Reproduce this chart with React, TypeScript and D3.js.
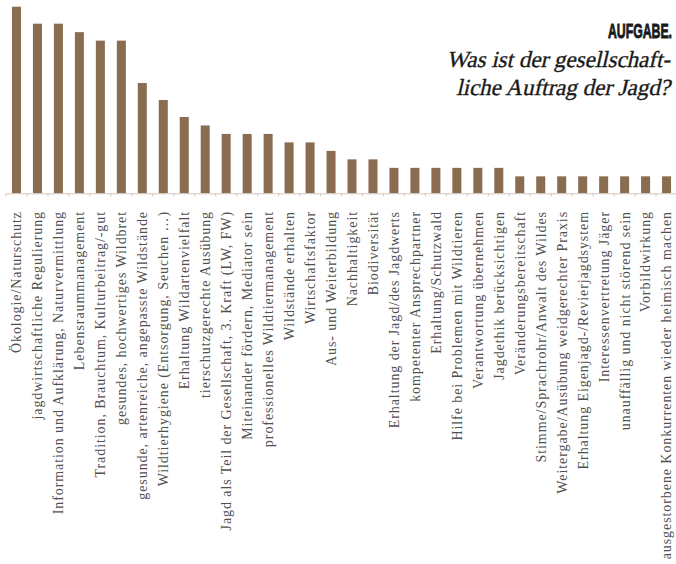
import React from "react";
import * as d3 from "d3";

const categories = [
  "Ökologie/Naturschutz",
  "jagdwirtschaftliche Regulierung",
  "Information und Aufklärung, Naturvermittlung",
  "Lebensraummanagement",
  "Tradition, Brauchtum, Kulturbeitrag/-gut",
  "gesundes, hochwertiges Wildbret",
  "gesunde, artenreiche, angepasste Wildstände",
  "Wildtierhygiene (Entsorgung, Seuchen …)",
  "Erhaltung Wildartenvielfalt",
  "tierschutzgerechte Ausübung",
  "Jagd als Teil der Gesellschaft, 3. Kraft (LW, FW)",
  "Miteinander fördern, Mediator sein",
  "professionelles Wildtiermanagement",
  "Wildstände erhalten",
  "Wirtschaftsfaktor",
  "Aus- und Weiterbildung",
  "Nachhaltigkeit",
  "Biodiversität",
  "Erhaltung der Jagd/des Jagdwerts",
  "kompetenter Ansprechpartner",
  "Erhaltung/Schutzwald",
  "Hilfe bei Problemen mit Wildtieren",
  "Verantwortung übernehmen",
  "Jagdethik berücksichtigen",
  "Veränderungsbereitschaft",
  "Stimme/Sprachrohr/Anwalt des Wildes",
  "Weitergabe/Ausübung weidgerechter Praxis",
  "Erhaltung Eigenjagd-/Revierjagdsystem",
  "Interessenvertretung Jäger",
  "unauffällig und nicht störend sein",
  "Vorbildwirkung",
  "ausgestorbene Konkurrenten wieder heimisch machen",
];

const values = [22, 20, 20, 19, 18, 18, 13, 11, 9, 8, 7, 7, 7, 6, 6, 5, 4, 4, 3, 3, 3, 3, 3, 3, 2, 2, 2, 2, 2, 2, 2, 2];

const titleTag = "AUFGABE.";
const titleLines = ["Was ist der gesellschaft-", "liche Auftrag der Jagd?"];

const W = 676;
const H = 564;
const baseY = 193.3;
const topY = 6.7;

export default function App() {
  const x = d3
    .scaleBand<string>()
    .domain(categories)
    .range([6, 6 + 32 * 20.97])
    .paddingInner(0.57)
    .paddingOuter(0.285);
  const y = d3.scaleLinear().domain([0, 22]).range([baseY, topY]);
  const step = x.step();
  const start = 6;

  return (
    <svg
      width={W}
      height={H}
      style={{ position: "absolute", left: 0, top: 0, display: "block", background: "#fff" }}
    >
      <g>
        {categories.map((c, i) => (
          <rect
            key={c}
            x={x(c)}
            y={y(values[i])}
            width={x.bandwidth()}
            height={baseY - y(values[i])}
            fill="#8a6d51"
          />
        ))}
      </g>
      <line x1={start} x2={W} y1={baseY + 0.5} y2={baseY + 0.5} stroke="#cfc6bc" strokeWidth={1} />
      {d3.range(categories.length + 1).map((i) => (
        <line
          key={"t" + i}
          x1={start + i * step}
          x2={start + i * step}
          y1={baseY}
          y2={baseY + 3}
          stroke="#cfc6bc"
          strokeWidth={1}
        />
      ))}
      <g
        fontFamily="'Liberation Serif', serif"
        fontSize={14}
        fill="#505050"
        letterSpacing={0.92}
      >
        {categories.map((c) => {
          const cx = (x(c) as number) + x.bandwidth() / 2;
          return (
            <text
              key={"l" + c}
              transform={`translate(${cx},211) rotate(-90)`}
              textAnchor="end"
              dy="0.35em"
            >
              {c}
            </text>
          );
        })}
      </g>
      <text
        x={672}
        y={38.3}
        textAnchor="end"
        fontFamily="'Liberation Sans', sans-serif"
        fontWeight="bold"
        fontSize={21}
        fill="#1a1a1a"
        stroke="#1a1a1a"
        strokeWidth={0.9}
        textLength={64}
        lengthAdjust="spacingAndGlyphs"
      >
        {titleTag}
      </text>
      <g fontFamily="'Liberation Serif', serif" fontSize={23} fill="#1a1a1a" stroke="#1a1a1a" strokeWidth={0.35}>
        {titleLines.map((t, i) => (
          <text
            key={"h" + i}
            transform={`translate(670,${66.5 + i * 28.5}) skewX(-13)`}
            x={0}
            y={0}
            textAnchor="end"
          >
            {t}
          </text>
        ))}
      </g>
    </svg>
  );
}
